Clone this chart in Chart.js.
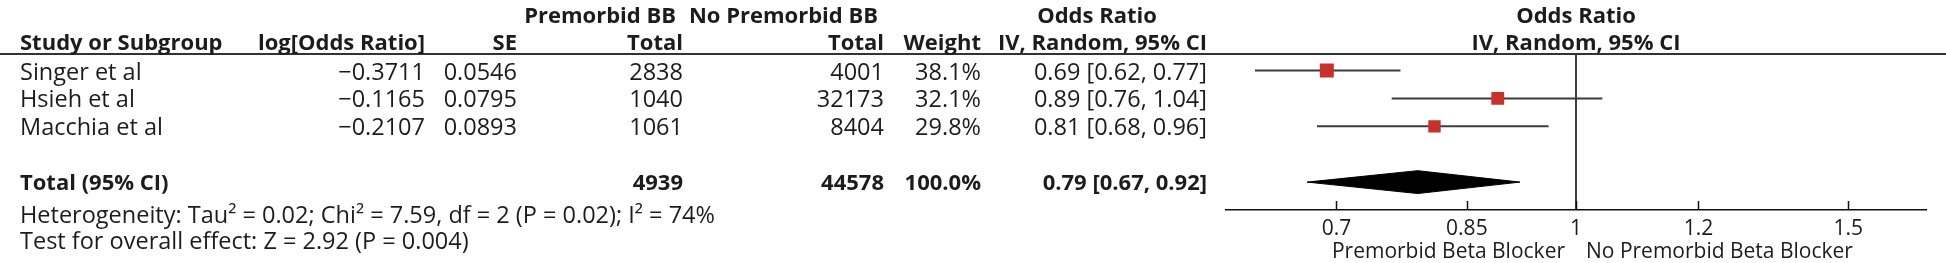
<!DOCTYPE html>
<html><head><meta charset="utf-8">
<script src="https://cdn.jsdelivr.net/npm/chart.js@4.4.1/dist/chart.umd.min.js"></script>
<style>
html,body{margin:0;padding:0;background:#fff;width:1946px;height:263px;overflow:hidden;}
#wrap{position:relative;width:1946px;height:263px;font-family:"Open Sans",sans-serif;font-size:23.5px;color:#1c1c1c;}
#c{position:absolute;left:0;top:0;}
.t{position:absolute;white-space:nowrap;line-height:1;transform:translateY(-50%);}
.b{font-weight:700;font-size:22px;}
.r{transform:translate(-100%,-50%);}
.m{transform:translate(-50%,-50%);}
#hline{position:absolute;left:0;top:52.5px;width:1946px;height:2px;background:#333;}
</style></head>
<body>
<div id="wrap">
<canvas id="c" width="1946" height="263"></canvas>
<div id="hline"></div>
<div id="table"></div>
</div>
<script>
// ---- data ----
const studies   = ['Singer et al', 'Hsieh et al', 'Macchia et al'];
const logOR     = [-0.3711, -0.1165, -0.2107];
const se        = [0.0546, 0.0795, 0.0893];
const totalBB   = [2838, 1040, 1061];
const totalNoBB = [4001, 32173, 8404];
const weight    = [38.1, 32.1, 29.8];
const oddsRatio = [0.69, 0.89, 0.81];
const ciLow     = [0.62, 0.76, 0.68];
const ciHigh    = [0.77, 1.04, 0.96];
const pooled    = { or: 0.79, low: 0.67, high: 0.92, totalBB: 4939, totalNoBB: 44578, weight: 100.0 };
const xTicks    = [0.7, 0.85, 1, 1.2, 1.5];
const heterogeneity = 'Heterogeneity: Tau² = 0.02; Chi² = 7.59, df = 2 (P = 0.02); I² = 74%';
const overallTest   = 'Test for overall effect: Z = 2.92 (P = 0.004)';
const favoursLeft   = 'Premorbid Beta Blocker';
const favoursRight  = 'No Premorbid Beta Blocker';

// ---- table layout ----
const colLeft = 20;
const colRight = { lor: 425, se: 517, t1: 683, t2: 884, w: 981, ci: 1207 };
const headRight = { t1: 676, t2: 878 };
const rowY = { h1: 14, h2: 41, rows: [72, 99.3, 126.6], total: 181.2, het: 214.7, test: 240.8 };
const PLOT_LEFT = 1226, PLOT_RIGHT = 1926;
const X_MIN = 0.5938, X_MAX = 1 / 0.5938;
const tbl = document.getElementById('table');
function put(text, x, y, cls) {
  const d = document.createElement('div');
  d.className = 't ' + (cls || '');
  d.style.left = x + 'px'; d.style.top = y + 'px';
  d.textContent = text; tbl.appendChild(d);
  return d;
}
const fmtLog = v => (v < 0 ? '\u2212' : '') + Math.abs(v).toFixed(4);
const fmtCI = (o, l, h) => o.toFixed(2) + ' [' + l.toFixed(2) + ', ' + h.toFixed(2) + ']';
put('Premorbid BB', headRight.t1, rowY.h1, 'b r');
put('No Premorbid BB', headRight.t2, rowY.h1, 'b r');
put('Odds Ratio', colRight.ci - 110, rowY.h1, 'b m');
put('Study or Subgroup', colLeft, rowY.h2, 'b');
put('log[Odds Ratio]', colRight.lor, rowY.h2, 'b r');
put('SE', colRight.se, rowY.h2, 'b r');
put('Total', colRight.t1, rowY.h2, 'b r');
put('Total', colRight.t2, rowY.h2, 'b r');
put('Weight', colRight.w, rowY.h2, 'b r');
put('IV, Random, 95% CI', colRight.ci, rowY.h2, 'b r');
const plotCenter = (PLOT_LEFT + PLOT_RIGHT) / 2;
put('Odds Ratio', plotCenter, rowY.h1, 'b m');
put('IV, Random, 95% CI', plotCenter, rowY.h2, 'b m');
studies.forEach((s, i) => {
  const y = rowY.rows[i];
  put(s, colLeft, y);
  put(fmtLog(logOR[i]), colRight.lor, y, 'r');
  put(se[i].toFixed(4), colRight.se, y, 'r');
  put(String(totalBB[i]), colRight.t1, y, 'r');
  put(String(totalNoBB[i]), colRight.t2, y, 'r');
  put(weight[i].toFixed(1) + '%', colRight.w, y, 'r');
  put(fmtCI(oddsRatio[i], ciLow[i], ciHigh[i]), colRight.ci, y, 'r');
});
put('Total (95% CI)', colLeft, rowY.total, 'b');
put(String(pooled.totalBB), colRight.t1, rowY.total, 'b r');
put(String(pooled.totalNoBB), colRight.t2, rowY.total, 'b r');
put(pooled.weight.toFixed(1) + '%', colRight.w, rowY.total, 'b r');
put(fmtCI(pooled.or, pooled.low, pooled.high), colRight.ci, rowY.total, 'b r');
put(heterogeneity, colLeft, rowY.het);
put(overallTest, colLeft, rowY.test);

// ---- chart ----
const Y_MIN = -0.61, Y_MAX = 5.0, TOTAL_ROW = studies.length + 1, DIAMOND_H = 0.41;
const datasets = [];
datasets.push({
  label: 'studies', type: 'scatter', order: 0,
  data: studies.map((s, i) => ({ x: oddsRatio[i], y: i })),
  pointStyle: 'rect', backgroundColor: '#c8302a', borderWidth: 0,
  pointRadius: ctx => 1.6 * Math.sqrt(weight[ctx.dataIndex] || 0)
});
studies.forEach((s, i) => datasets.push({
  label: 'ci' + i, type: 'scatter', showLine: true, order: 2,
  data: [{ x: ciLow[i], y: i }, { x: ciHigh[i], y: i }],
  borderColor: '#3c3c3c', borderWidth: 2, pointRadius: 0
}));
datasets.push({
  label: 'pooled', type: 'scatter', showLine: true, order: 1,
  data: [{ x: pooled.low, y: TOTAL_ROW }, { x: pooled.or, y: TOTAL_ROW - DIAMOND_H },
         { x: pooled.high, y: TOTAL_ROW }, { x: pooled.or, y: TOTAL_ROW + DIAMOND_H },
         { x: pooled.low, y: TOTAL_ROW }],
  borderColor: '#000', backgroundColor: '#000', borderWidth: 1, fill: 'shape', pointRadius: 0, tension: 0
});
datasets.push({
  label: 'null', type: 'scatter', showLine: true, order: 3,
  data: [{ x: 1, y: Y_MIN }, { x: 1, y: Y_MAX }],
  borderColor: '#111', borderWidth: 1.6, pointRadius: 0
});

const AXIS_FONT = { family: '"Open Sans", sans-serif', size: 21 };
const tickMarks = {
  id: 'tickMarks',
  afterDraw(chart) {
    const xs = chart.scales.x, ctx = chart.ctx, y = xs.top;
    ctx.save();
    ctx.strokeStyle = '#111'; ctx.lineWidth = 1.5;
    xs.ticks.forEach(t => {
      const px = Math.round(xs.getPixelForValue(t.value)) + 0.5;
      ctx.beginPath(); ctx.moveTo(px, y); ctx.lineTo(px, y - 9); ctx.stroke();
    });
    ctx.font = '21px "Open Sans", sans-serif';
    ctx.fillStyle = '#1c1c1c'; ctx.textBaseline = 'middle';
    const p1 = xs.getPixelForValue(1);
    ctx.textAlign = 'right'; ctx.fillText(favoursLeft, p1 - 11, 252);
    ctx.textAlign = 'left'; ctx.fillText(favoursRight, p1 + 10, 252);
    ctx.restore();
  }
};

new Chart(document.getElementById('c'), {
  type: 'scatter',
  data: { datasets },
  plugins: [tickMarks],
  options: {
    responsive: false, animation: false, devicePixelRatio: 1,
    layout: { padding: { left: PLOT_LEFT, right: 1946 - PLOT_RIGHT, top: 53.5, bottom: 0 } },
    plugins: { legend: { display: false }, tooltip: { enabled: false } },
    scales: {
      x: {
        type: 'logarithmic', min: X_MIN, max: X_MAX,
        afterBuildTicks: s => { s.ticks = xTicks.map(v => ({ value: v })); },
        afterFit: s => { s.height = 53; },
        grid: { display: false, drawTicks: false },
        border: { display: true, color: '#111', width: 1.6 },
        ticks: { callback: v => String(v), font: AXIS_FONT, color: '#1c1c1c', padding: 6, autoSkip: false, maxRotation: 0 }
      },
      y: { type: 'linear', reverse: true, min: Y_MIN, max: Y_MAX, display: false }
    }
  }
});
</script>
</body></html>
